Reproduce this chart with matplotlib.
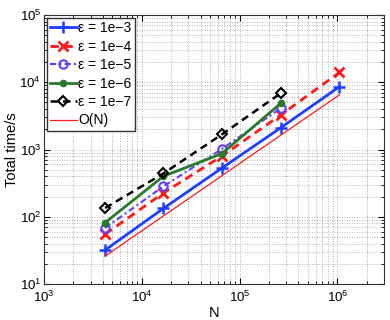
import numpy as np
import matplotlib
matplotlib.use("Agg")
import matplotlib.pyplot as plt
from matplotlib.ticker import LogLocator, NullFormatter

# problem sizes
N = [4225, 16641, 66049, 263169, 1050625]

# total time (s) per tolerance
t_1e3 = [32, 133, 530, 2100, 8600]
t_1e4 = [55, 226, 800, 3250, 14000]
t_1e5 = [68, 283, 1020, 4100]
t_1e6 = [82, 400, 870, 4850]
t_1e7 = [135, 440, 1680, 6850]
t_ref = [26, 103, 408, 1630, 6500]

plt.rcParams["font.family"] = ["Liberation Sans", "DejaVu Sans"]
plt.rcParams["mathtext.fontset"] = "custom"
plt.rcParams["mathtext.rm"] = "Liberation Sans"
plt.rcParams["mathtext.default"] = "regular"

fig = plt.figure(figsize=(3.9, 3.2), dpi=100)
ax = fig.add_axes([44 / 390, 1 - 284 / 320, 340 / 390, 269 / 320])

ax.plot(N, t_1e3, color="#1f3fff", linestyle="-", linewidth=2,
        marker="+", markersize=9, markeredgewidth=1.8, label="ε = 1e−3")
ax.plot(N, t_1e4, color="#ff1a1a", linestyle=(0, (3, 2)), linewidth=2,
        marker="x", markersize=7, markeredgewidth=2, label="ε = 1e−4")
ax.plot(N[:4], t_1e5, color="#6040ff", linestyle=(0, (3, 1.5, 1, 1.5)), linewidth=1.5,
        marker="o", markersize=6, markerfacecolor="none", markeredgewidth=1.5,
        label="ε = 1e−5")
ax.plot(N[:4], t_1e6, color="#2a7a2a", linestyle="-", linewidth=2,
        marker="o", markersize=4.5, label="ε = 1e−6")
ax.plot(N[:4], t_1e7, color="black", linestyle=(0, (3, 2)), linewidth=1.8,
        marker="D", markersize=5, markerfacecolor="none", markeredgewidth=1.5,
        label="ε = 1e−7")
ax.plot(N, t_ref, color="#ff1a1a", linestyle="-", linewidth=0.9, label="O(N)")

ax.set_xscale("log")
ax.set_yscale("log")
ax.set_xlim(1e3, 3e6)
ax.set_ylim(1e1, 1e5)

ax.xaxis.set_major_locator(LogLocator(base=10, numticks=10))
ax.yaxis.set_major_locator(LogLocator(base=10, numticks=10))
ax.xaxis.set_minor_locator(LogLocator(base=10, subs=np.arange(2, 10), numticks=20))
ax.yaxis.set_minor_locator(LogLocator(base=10, subs=np.arange(2, 10), numticks=20))
ax.xaxis.set_minor_formatter(NullFormatter())
ax.yaxis.set_minor_formatter(NullFormatter())

ax.tick_params(which="both", direction="in", top=True, right=True, labelsize=9.5)
ax.tick_params(which="major", length=4, pad=2)
ax.tick_params(axis="x", which="major", pad=4)
ax.tick_params(which="minor", length=2)
ax.grid(which="both", linestyle=(0, (1, 2)), color="#999999", linewidth=0.6)
ax.set_axisbelow(True)
for s in ax.spines.values():
    s.set_color("#333333")

ax.set_xlabel("N", fontsize=10.5, labelpad=1)
ax.set_ylabel("Total time/s", fontsize=10.5, labelpad=0)

leg = ax.legend(loc="upper left", fontsize=10, frameon=True, fancybox=False,
                borderpad=0.25, labelspacing=0.32, handlelength=1.9,
                handletextpad=0.1, borderaxespad=0.2, framealpha=1)
leg.get_frame().set_edgecolor("#333333")
leg.get_frame().set_linewidth(1)

fig.savefig("out.png", dpi=100)
